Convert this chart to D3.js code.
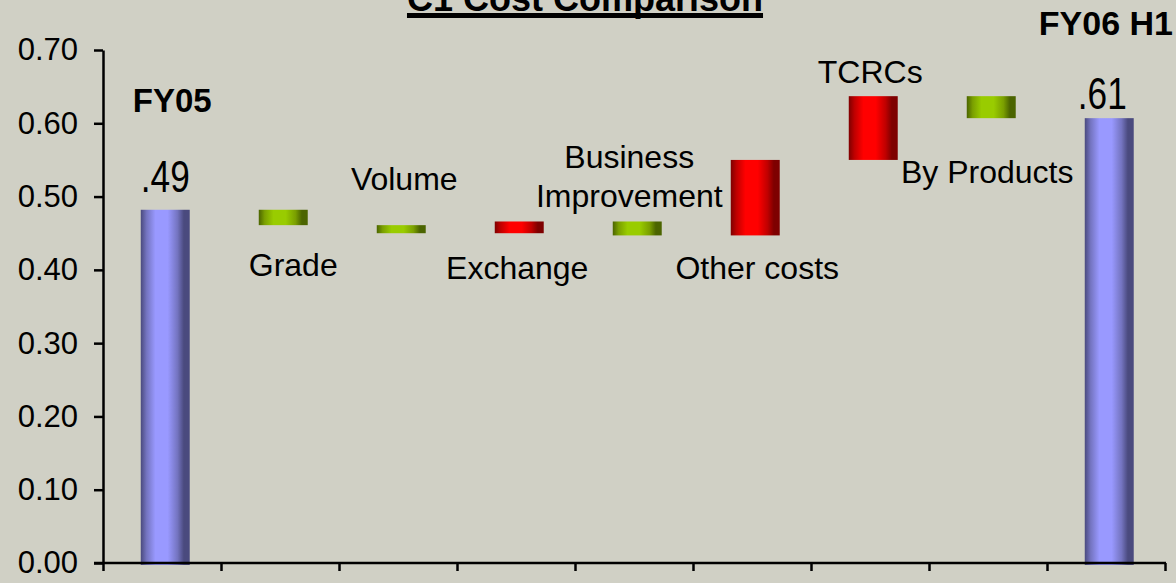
<!DOCTYPE html>
<html>
<head>
<meta charset="utf-8">
<script src="https://cdn.jsdelivr.net/npm/d3@7"></script>
<style>
  html, body { margin: 0; padding: 0; background: #d0d0c5; overflow: hidden; }
  svg { display: block; font-family: "Liberation Sans", Arial, sans-serif; }
</style>
</head>
<body>
<svg id="chart"></svg>
<script>
const chartSize = { width: 1176, height: 583 };
const plot = { left: 103, right: 1165, top: 50, bottom: 563 };

// data
const categories = ["FY05", "Grade", "Volume", "Exchange", "Business Improvement",
  "Other costs", "TCRCs", "By Products", "FY06 H1"];
const startValue = 0.482;
const deltas = [-0.021, -0.011, 0.016, -0.019, 0.103, 0.087, -0.030];
const endValue = 0.607;
const totalLabels = [".49", ".61"];
const yTicks = [0, 0.1, 0.2, 0.3, 0.4, 0.5, 0.6, 0.7];
const title = "C1 Cost Comparison";

// label placement around each step bar (pixels)
const stepLabelLayout = {
  "Grade": { side: "below", dx: 10, dy: 51 },
  "Volume": { side: "above", dx: 3, dy: 35 },
  "Exchange": { side: "below", dx: -2, dy: 46 },
  "Business Improvement": { side: "above", dx: -8, dy: 14, lines: ["Business", "Improvement"] },
  "Other costs": { side: "below", dx: 2, dy: 44 },
  "TCRCs": { side: "above", dx: -3, dy: 13 },
  "By Products": { side: "below", dx: -4, dy: 65 }
};

const buildBars = () => {
  const bars = [{ name: categories[0], from: 0, to: startValue, kind: "total" }];
  let level = startValue;
  deltas.forEach((d, i) => {
    bars.push({ name: categories[i + 1], from: level, to: level + d, kind: d < 0 ? "down" : "up" });
    level += d;
  });
  bars.push({ name: categories[categories.length - 1], from: 0, to: endValue, kind: "total" });
  return bars;
};

const addGradient = (defs, id, dark, mid, bright) => {
  const g = defs.append("linearGradient").attr("id", id)
    .attr("x1", "0%").attr("x2", "100%").attr("y1", "0%").attr("y2", "0%");
  const stops = [[0, dark], [0.12, mid], [0.3, bright], [0.55, bright], [0.75, mid], [0.88, dark], [1, dark]];
  stops.forEach(([o, c]) => g.append("stop").attr("offset", o).attr("stop-color", c));
};

const main = () => {
  const svg = d3.select("#chart")
    .attr("width", chartSize.width)
    .attr("height", chartSize.height);

  const defs = svg.append("defs");
  addGradient(defs, "g-total", "#4a4a7e", "#7474c0", "#9999ff");
  addGradient(defs, "g-down", "#4b6400", "#7a9f00", "#99cc00");
  addGradient(defs, "g-up", "#7e0000", "#c00000", "#ff0000");

  const bars = buildBars();

  const x = d3.scaleBand().domain(categories).range([plot.left, plot.right]).padding(0);
  const bw = x.bandwidth();
  const y = d3.scaleLinear().domain([0, 0.7]).range([plot.bottom, plot.top]);
  const xEdges = d3.scaleLinear().domain([0, categories.length]).range([plot.left, plot.right]);

  const barX = d => x(d.name) + bw * 0.32;
  const barW = bw * 0.415;
  const barCx = d => barX(d) + barW / 2;

  // bars
  svg.append("g").selectAll("rect")
    .data(bars)
    .enter()
    .append("rect")
    .attr("x", barX)
    .attr("width", barW)
    .attr("y", d => y(Math.max(d.from, d.to)))
    .attr("height", d => Math.abs(y(d.from) - y(d.to)) + (d.kind === "total" ? 2 : 0))
    .attr("fill", d => `url(#g-${d.kind})`);

  // y axis
  const yAxis = d3.axisLeft(y)
    .tickValues(yTicks)
    .tickFormat(d3.format(".2f"))
    .tickSizeInner(9)
    .tickSizeOuter(0)
    .tickPadding(16);
  const yg = svg.append("g").attr("transform", `translate(${plot.left},0)`).call(yAxis);
  yg.select(".domain").attr("stroke", "#000").attr("stroke-width", 2.5);
  yg.selectAll(".tick line").attr("stroke", "#000").attr("stroke-width", 2.5);
  yg.selectAll(".tick text")
    .attr("font-size", 31)
    .attr("font-family", "Liberation Sans, Arial, sans-serif")
    .attr("fill", "#000");

  // x axis with ticks at category edges
  const xAxis = d3.axisBottom(xEdges)
    .tickValues(d3.range(categories.length + 1))
    .tickFormat("")
    .tickSizeInner(8)
    .tickSizeOuter(0);
  const xg = svg.append("g").attr("transform", `translate(0,${plot.bottom})`).call(xAxis);
  xg.select(".domain").remove();
  xg.selectAll(".tick line").attr("stroke", "#000").attr("stroke-width", 2.5);
  xg.append("line")
    .attr("x1", plot.left - 9).attr("x2", plot.right + 1)
    .attr("stroke", "#000").attr("stroke-width", 2.5);

  // step labels
  const labels = svg.append("g").attr("font-size", 32).attr("fill", "#000").attr("text-anchor", "middle");
  bars.filter(d => d.kind !== "total").forEach(d => {
    const lay = stepLabelLayout[d.name];
    const top = y(Math.max(d.from, d.to));
    const bottom = y(Math.min(d.from, d.to));
    const lines = lay.lines || [d.name];
    const lineH = 39;
    const baseY = lay.side === "above" ? top - lay.dy - (lines.length - 1) * lineH : bottom + lay.dy;
    lines.forEach((ln, i) => {
      labels.append("text")
        .attr("x", barCx(d) + lay.dx)
        .attr("y", baseY + i * lineH)
        .text(ln);
    });
  });

  // totals: narrow value labels drawn by squeezing the text horizontally
  const first = bars[0];
  const last = bars[bars.length - 1];
  const valueLabel = (cx, by, txt) => {
    svg.append("text")
      .attr("transform", `translate(${cx},${by}) scale(0.8,1)`)
      .attr("text-anchor", "middle")
      .attr("font-size", 44)
      .text(txt);
  };
  valueLabel(barCx(first), y(first.to) - 18, totalLabels[0]);
  valueLabel(barCx(last) - 7, y(last.to) - 9, totalLabels[1]);

  svg.append("text")
    .attr("x", barX(first) - 8).attr("y", 112)
    .attr("font-size", 33).attr("font-weight", "bold")
    .text(first.name);
  svg.append("text")
    .attr("x", 1173).attr("y", 35)
    .attr("text-anchor", "end")
    .attr("font-size", 34).attr("font-weight", "bold")
    .text(last.name);

  // title, clipped by the top edge as in the original, with thick underline
  const t = svg.append("text")
    .attr("x", 585).attr("y", 11)
    .attr("text-anchor", "middle")
    .attr("font-size", 36).attr("font-weight", "bold")
    .text(title);
  const tb = t.node().getBBox();
  svg.append("rect")
    .attr("x", tb.x).attr("width", tb.width)
    .attr("y", 13).attr("height", 5)
    .attr("fill", "#000");
};

window.onload = main;
</script>
</body>
</html>
